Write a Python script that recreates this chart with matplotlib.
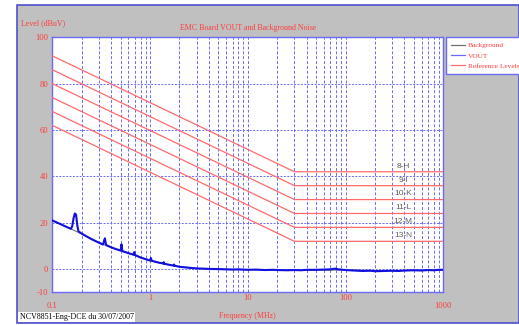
import matplotlib
matplotlib.use("Agg")
import matplotlib.pyplot as plt
from matplotlib.patches import Rectangle
from matplotlib.lines import Line2D
import numpy as np

# ---------------- data ----------------
ref_freq = [0.1, 30, 1000]
ref_names = ["8-H", "9-I", "10-K", "11-L", "12-M", "13-N"]
ref_start = [92, 86, 80, 74, 68, 62]
ref_flat = [42, 36, 30, 24, 18, 12]

vout_freq = [0.1, 0.12, 0.14, 0.155, 0.16, 0.165, 0.17, 0.175, 0.18, 0.185, 0.2,
             0.25, 0.3, 0.33, 0.345, 0.355, 0.4, 0.45, 0.5, 0.51, 0.52, 0.6,
             0.68, 0.69, 0.70, 0.8, 0.9, 1.0, 1.02, 1.04, 1.2, 1.37, 1.38, 1.4,
             1.6, 1.75, 1.76, 1.78, 2.0, 2.5, 3.0, 3.5, 4.0, 5.0, 6.0, 7.0, 8.0,
             10, 12, 15, 18, 20, 25, 30, 35, 40, 50, 60, 70, 78, 85, 100, 120,
             150, 180, 200, 250, 300, 350, 400, 500, 600, 700, 800, 900, 1000]
vout_level = [21.0, 19.5, 18.2, 17.4, 18.5, 22.0, 24.0, 23.5, 19.0, 16.3, 15.3,
              13.0, 11.4, 10.6, 13.3, 10.4, 9.4, 8.6, 8.0, 10.7, 7.8, 6.9,
              6.2, 7.3, 6.1, 5.0, 4.3, 3.7, 4.8, 3.6, 2.9, 2.4, 3.0, 2.3,
              1.8, 1.5, 2.0, 1.5, 1.0, 0.6, 0.3, 0.2, 0.1, 0.0, -0.1, -0.2, -0.1,
              -0.3, -0.2, -0.4, -0.3, -0.4, -0.5, -0.4, -0.5, -0.3, -0.3, -0.2, -0.1, 0.2, -0.1, -0.4, -0.6,
              -0.8, -0.7, -0.9, -0.8, -0.7, -0.8, -0.6, -0.5, -0.6, -0.4, -0.5, -0.3, -0.3]

bg_freq = [0.1, 0.15, 0.2, 0.3, 0.5, 0.7, 1.0, 1.5, 2.0, 3.0, 5.0, 10, 30, 100, 300, 1000]
bg_level = [21.0, 17.6, 15.2, 11.4, 7.9, 6.0, 3.6, 2.0, 1.0, 0.3, 0.0, -0.3, -0.5, -0.4, -0.7, -0.3]

x_ticks = [0.1, 1, 10, 100, 1000]
x_ticklabels = ["0.1", "1", "10", "100", "1000"]
y_ticks = [-10, 0, 20, 40, 60, 80, 100]
y_ticklabels = ["-10", "0", "20", "40", "60", "80", "100"]

# ---------------- style ----------------
W, H = 519, 325
serif = ["Liberation Serif", "DejaVu Serif"]
sans = ["Liberation Sans", "DejaVu Sans"]
RED_TXT = "#ff3c3c"
RED_LINE = "#ff6a6a"
GRID = "#6a6aff"
FRAME = "#6a6aff"
FS = 5.7

fig = plt.figure(figsize=(W / 100, H / 100), dpi=100)
fig.patch.set_facecolor("white")

# gray panel
panel = Rectangle((17 / W, 2 / H), (W - 17) / W, (H - 7) / H, transform=fig.transFigure,
                  facecolor="#c0c0c0", edgecolor="#5050d0", linewidth=1.2, zorder=-10)
fig.patches.append(panel)

ax = fig.add_axes([52.3 / W, (H - 292.3) / H, (443.3 - 52.3) / W, (292.3 - 37.3) / H])
ax.set_zorder(1)
ax.set_facecolor("white")
ax.set_xscale("log")
ax.set_xlim(0.1, 1000)
ax.set_ylim(-10, 100)

# grid
ax.set_axisbelow(True)
ax.set_xticks(x_ticks)
ax.set_xticklabels(x_ticklabels)
ax.xaxis.set_minor_locator(matplotlib.ticker.LogLocator(base=10, subs=np.arange(2, 10)))
ax.xaxis.set_minor_formatter(matplotlib.ticker.NullFormatter())
ax.set_yticks(y_ticks)
ax.set_yticklabels(y_ticklabels)
ax.grid(True, which="both", axis="x", color=GRID, linestyle=(0, (3, 2)), linewidth=0.7)
ax.grid(True, which="major", axis="y", color=GRID, linestyle=(0, (2, 1.5)), linewidth=0.7)
ax.tick_params(which="both", length=0)
ax.tick_params(axis="y", pad=3, labelsize=FS + 0.4, labelcolor=RED_TXT)
ax.tick_params(axis="x", pad=1.5, labelsize=FS + 0.4, labelcolor=RED_TXT)
for lab in ax.get_xticklabels() + ax.get_yticklabels():
    lab.set_family(serif)
ticks = ax.xaxis.get_major_ticks()
ticks[0].set_pad(7)
ticks[-1].set_pad(7)

for s in ax.spines.values():
    s.set_color(FRAME)
    s.set_linewidth(1.0)

# reference levels
for name, a, b in zip(ref_names, ref_start, ref_flat):
    ax.plot(ref_freq, [a, b, b], color=RED_LINE, linewidth=0.9, zorder=3)
    ax.text(390, b + 0.9, name, ha="center", va="bottom", fontsize=6.0,
            color="#606060", family=sans, zorder=4)

bg_line, = ax.plot(bg_freq, bg_level, color="#808080", linewidth=0.9, zorder=3)
vout_line, = ax.plot(vout_freq, vout_level, color="#1010e0", linewidth=1.5, zorder=4)

h_bg = Line2D([], [], color="#707070", linewidth=0.9)
h_vout = Line2D([], [], color="#6a6aff", linewidth=0.9)
h_ref = Line2D([], [], color=RED_LINE, linewidth=0.9)

leg = fig.legend([h_bg, h_vout, h_ref], ["Background", "VOUT", "Reference Levels"],
                 loc="upper left", bbox_to_anchor=(445.5 / W, (H - 37) / H),
                 prop={"family": serif, "size": 5.3}, labelcolor=RED_TXT,
                 frameon=True, fancybox=False, edgecolor=FRAME, framealpha=1,
                 handlelength=1.9, handletextpad=0.45, borderpad=0.7, labelspacing=0.55,
                 borderaxespad=0)
leg.get_frame().set_linewidth(1.0)
leg.set_zorder(5)

# texts
fig.text(247.8 / W, 1 - 27.7 / H, "EMC Board VOUT and Background Noise", ha="center",
         va="center", fontsize=FS, color=RED_TXT, family=serif)
fig.text(21 / W, 1 - 23 / H, "Level (dBuV)", ha="left", va="center", fontsize=FS,
         color=RED_TXT, family=serif)
fig.text(247.8 / W, 1 - 316 / H, "Frequency (MHz)", ha="center", va="center",
         fontsize=FS, color=RED_TXT, family=serif)
fig.text(19.5 / W, 1 - 317 / H, "NCV8851-Eng-DCE du 30/07/2007", ha="left", va="center",
         fontsize=FS, color="black", family=serif,
         bbox=dict(facecolor="white", edgecolor="none", pad=0.8))

fig.savefig("out.png", dpi=100)
